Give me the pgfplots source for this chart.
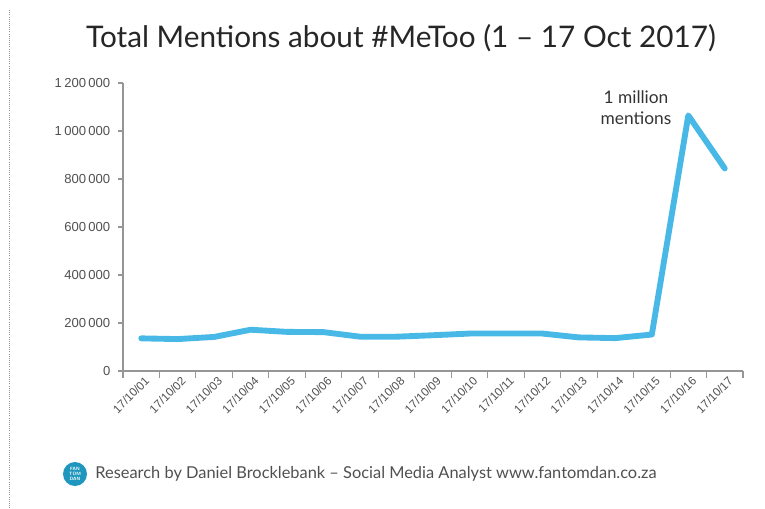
\documentclass[border=0pt]{standalone}
\usepackage{pgfplots}
\pgfplotsset{compat=1.18}
\usepackage{fontspec}
\setmainfont{Liberation Sans}
\newfontfamily\titlefont{Lato}
\definecolor{linecol}{RGB}{72,184,230}
\definecolor{axgray}{RGB}{150,150,150}
\definecolor{txtgray}{RGB}{80,80,80}
\definecolor{teal}{RGB}{30,150,190}
\begin{document}
\begin{tikzpicture}
\path (0,0) rectangle (573.75pt,381pt);
\draw[axgray, densely dotted, line width=0.6pt] (6.75pt,0pt) -- (6.75pt,373.5pt);
\node[font=\titlefont\fontsize{22.3}{25}\selectfont, text=black!85] at (300.75pt,352.5pt) {Total Mentions about \#MeToo (1 – 17 Oct 2017)};
\begin{axis}[
  at={(92.25pt,102.75pt)}, anchor=south west,
  scale only axis, width=465pt, height=216pt,
  xmin=-0.5, xmax=16.5, ymin=0, ymax=1200000,
  axis x line*=bottom, axis y line*=left,
  axis line style={axgray, line width=0.8pt},
  xtick={0,...,16},
  xticklabels={17/10/01,17/10/02,17/10/03,17/10/04,17/10/05,17/10/06,17/10/07,17/10/08,17/10/09,17/10/10,17/10/11,17/10/12,17/10/13,17/10/14,17/10/15,17/10/16,17/10/17},
  major x tick style={draw=none},
  minor xtick={-0.5,0.5,...,16.5},
  minor x tick style={axgray, line width=0.8pt},
  minor tick length=5pt,
  tick align=outside,
  ytick={0,200000,...,1200000},
  major y tick style={axgray, line width=0.8pt},
  major tick length=4pt,
  x tick label style={rotate=45, anchor=north east, font=\fontsize{8.8}{10}\selectfont, text=txtgray, inner sep=1pt, xshift=3pt},
  y tick label style={font=\fontsize{9.8}{11}\selectfont, text=txtgray, xshift=-2pt},
  scaled y ticks=false,
  yticklabel style={/pgf/number format/.cd, fixed, 1000 sep={\kern0.18em}, assume math mode=true},
  clip=false,
]
\addplot[linecol, line width=4.4pt, line join=round, line cap=round] coordinates {
(0,136000) (1,133000) (2,142000) (3,172000) (4,163000) (5,162000) (6,143000) (7,143000) (8,149000) (9,156000) (10,156000) (11,156000) (12,140000) (13,137000) (14,152000) (15,1065000) (16,844000)
};
\end{axis}
\node[font=\titlefont\fontsize{13}{16}\selectfont, text=black!80, align=center] at (477pt,300pt) {1 million\\mentions};
\fill[teal] (56.25pt,25.5pt) circle (9pt);
\node[font=\sffamily\bfseries\fontsize{3.5}{3.6}\selectfont, text=white, align=center, inner sep=0] at (56.25pt,25.5pt) {FAN\\TOM\\DAN};
\node[font=\titlefont\fontsize{12.3}{14}\selectfont, text=txtgray, anchor=west] at (68pt,25.5pt) {Research by Daniel Brocklebank – Social Media Analyst www.fantomdan.co.za};
\end{tikzpicture}
\end{document}
